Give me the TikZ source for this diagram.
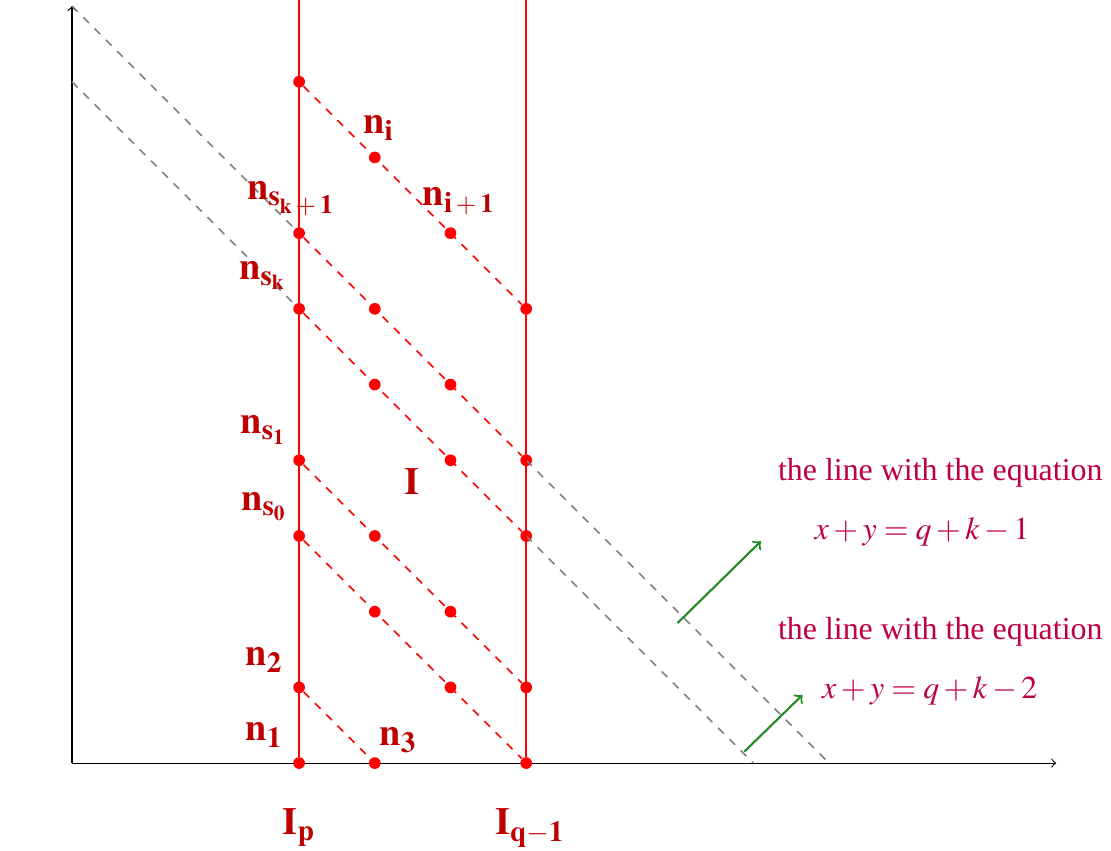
\documentclass[tikz,border=0pt]{standalone}
\usepackage{mathptmx}
\usepackage{fontspec}
\setmainfont{Liberation Serif}
\usepackage{xcolor}
\usepackage{tikz}
\usetikzlibrary{arrows, positioning, calc}

\definecolor{arrowgreen}{RGB}{34,139,34}
\newcommand{\plusone}{\mbox{\normalsize${}+\mathbf{1}$}}

\tikzset{
  nodept/.style={circle, fill=red, inner sep=0pt, minimum size=4.4pt},
  lbl/.style={text=red!75!black, font=\Large},
  eqn/.style={text=purple, font=\large},
  seg/.style={red, dashed, semithick},
  guide/.style={gray, dashed, semithick}
}

\begin{document}
\begin{tikzpicture}
\useasboundingbox (-0.951,-1.149) rectangle (13.725,10.08);

% Axes
\coordinate (O) at (0,0);
\coordinate (xend) at (13,0);
\coordinate (yend) at (0,10);
\draw[->] (O) -- (xend);
\draw[->] (O) -- (yend);

% Points
\foreach \x/\y in {3/0,4/0,6/0,3/1,5/1,6/1,4/2,5/2,3/3,4/3,6/3,3/4,5/4,6/4,
                   4/5,5/5,3/6,4/6,6/6,3/7,5/7,4/8,3/9}
  \node[nodept] (p\x\y) at (\x,\y) {};

% Guide lines x+y=10 and x+y=9
\coordinate (g1a) at (0,10);
\coordinate (g1b) at (10,0);
\coordinate (g2a) at (0,9);
\coordinate (g2b) at (9,0);
\draw[guide] (g1a) -- (p37.center);
\draw[guide] (p64.center) -- (g1b);
\draw[guide] (g2a) -- (p36.center);
\draw[guide] (p63.center) -- (g2b);

% Columns I_p and I_{q-1}
\coordinate (top3) at (3,10.1);
\coordinate (top6) at (6,10.1);
\draw[red, thick] (p30) -- (top3);
\draw[red, thick] (p60) -- (top6);

% Diagonals
\foreach \a/\b in {31/40,33/60,34/61,36/63,37/64,39/66}
  \draw[seg] (p\a) -- (p\b);

% Point labels
\node[lbl] (ni) at (4.05,8.39) {$\mathbf{n_i}$};
\node[lbl] (ni1) at (5.11,7.42) {$\mathbf{n_{i\plusone}}$};
\node[lbl] (nsk1) at (2.90,7.46) {$\mathbf{n_{s_{k\plusone}}}$};
\node[lbl] (nsk) at (2.52,6.44) {$\mathbf{n_{s_k}}$};
\node[lbl] (ns1) at (2.53,4.40) {$\mathbf{n_{s_1}}$};
\node[lbl] (ns0) at (2.54,3.39) {$\mathbf{n_{s_0}}$};
\node[lbl] (n2) at (2.54,1.36) {$\mathbf{n_2}$};
\node[lbl] (n1) at (2.54,0.37) {$\mathbf{n_1}$};
\node[lbl] (n3) at (4.31,0.30) {$\mathbf{n_3}$};
\node[lbl] (I) at (4.49,3.72) {$\mathbf{I}$};
\node[lbl, below=0.4cm of p30] (Ip) {$\mathbf{I_p}$};
\node[lbl, below=0.4cm of p60, xshift=0.05cm] (Iq) {$\mathbf{I_{q-1}}$};

% Equations
\node[eqn] (txt1) at (11.47,3.84) {the line with the equation};
\node[eqn] (eq1) at (11.23,3.05) {$x+y=q+k-1$};
\node[eqn] (txt2) at (11.47,1.74) {the line with the equation};
\node[eqn] (eq2) at (11.33,0.96) {$x+y=q+k-2$};

% Arrows to the lines
\coordinate (a1s) at (8,1.85);
\coordinate (a1e) at (9.1,2.93);
\coordinate (a2s) at (8.88,0.15);
\coordinate (a2e) at (9.65,0.9);
\draw[->, thick, arrowgreen] (a1s) -- (a1e);
\draw[->, thick, arrowgreen] (a2s) -- (a2e);
\end{tikzpicture}
\end{document}
